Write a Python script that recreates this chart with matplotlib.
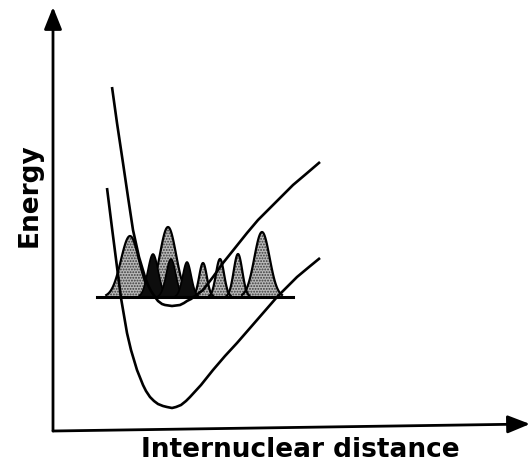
import numpy as np
import matplotlib
matplotlib.use("Agg")
import matplotlib.pyplot as plt

# potential curves (distance, energy), arbitrary units
ground_r = [54, 59, 64, 68, 74, 78, 84, 90, 93, 97, 101, 105, 110, 114, 119, 123, 128, 133, 137,
            148, 160, 172, 184, 204, 224, 244, 256, 267]
ground_e = [243, 203, 164, 133, 98, 81, 61, 46, 40, 34, 30, 27, 25, 24, 23, 24, 26, 30, 34,
            46, 61, 75, 88, 111, 134, 154, 164, 173]

excited_r = [59, 64, 70, 75, 80, 86, 92, 95, 98, 102, 105, 109, 112, 119, 127, 131, 134, 138, 142,
             150, 160, 170, 182, 194, 205, 217, 229, 240, 253, 267]
excited_e = [344, 308, 268, 234, 201, 174, 154, 146, 140, 134, 130, 127, 126, 125, 126, 128, 130, 132, 135,
             141, 154, 168, 183, 198, 211, 223, 235, 246, 257, 269]

# vibrational level and its probability peaks
level_e = 134
level_r = [44, 240]

light_pos = [77, 115, 150, 167, 185, 209]
light_height = [61, 70, 34, 38, 43, 65]
light_width = [19, 17, 8, 8.5, 9, 16]

dark_pos = [100, 118, 134]
dark_height = [43, 38, 35]
dark_width = [11, 10, 9]

plt.rcParams['hatch.color'] = '#3a3a3a'
plt.rcParams['hatch.linewidth'] = 0.9

fig = plt.figure(figsize=(5.32, 4.67), dpi=100)
ax = fig.add_axes([0, 0, 1, 1])
ax.set_xlim(-53, 479)
ax.set_ylim(-36, 431)
ax.axis('off')


def peak(c, h, w):
    s = w / 2.1
    x = np.linspace(c - w * 1.25, c + w * 1.25, 80)
    return x, level_e + h * np.exp(-0.5 * ((x - c) / s) ** 2)


big = [0, 1]
# the two broad peaks first, dark peaks over them, the small ones last
for i in big:
    x, y = peak(light_pos[i], light_height[i], light_width[i])
    ax.fill_between(x, level_e, y, facecolor='#b8b8b8', hatch='......',
                    linewidth=0, zorder=2)
    ax.plot(x, y, color='black', lw=1.6, zorder=3)

for c, h, w in zip(dark_pos, dark_height, dark_width):
    x, y = peak(c, h, w)
    ax.fill_between(x, level_e, y, facecolor='#0d0d0d', linewidth=0, zorder=4)
    ax.plot(x, y, color='black', lw=1.2, zorder=4)

for i in range(2, len(light_pos)):
    x, y = peak(light_pos[i], light_height[i], light_width[i])
    ax.fill_between(x, level_e, y, facecolor='#b8b8b8', hatch='......',
                    linewidth=0, zorder=2)
    ax.plot(x, y, color='black', lw=1.6, zorder=3)

ax.plot(level_r, [level_e, level_e], color='black', lw=2.2, zorder=5)

ax.plot(ground_r, ground_e, color='black', lw=1.9, zorder=6, solid_capstyle='butt',
        solid_joinstyle='round')
ax.plot(excited_r, excited_e, color='black', lw=1.9, zorder=6, solid_capstyle='butt',
        solid_joinstyle='round')

# axes as arrows
arrow = dict(arrowstyle='-|>,head_length=0.75,head_width=0.3', color='black', lw=2,
             mutation_scale=18, shrinkA=0, shrinkB=0)
ax.annotate('', xy=(0, 424), xytext=(0, 0), arrowprops=arrow)
ax.annotate('', xy=(477, 7), xytext=(0, 0), arrowprops=arrow)

ax.text(-23, 236, 'Energy', rotation=90, ha='center', va='center',
        fontsize=19, fontweight='bold', family='DejaVu Sans')
ax.text(247, -19, 'Internuclear distance', ha='center', va='center',
        fontsize=19, fontweight='bold', family='DejaVu Sans')

fig.savefig('out.png', dpi=100, facecolor='white')
